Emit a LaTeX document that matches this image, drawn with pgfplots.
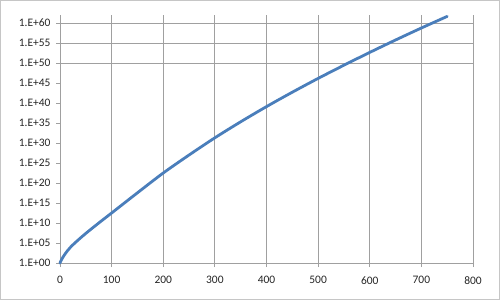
\documentclass[border=0pt]{standalone}
\usepackage{fontspec}
\setmainfont{Carlito}
\usepackage{pgfplots}
\pgfplotsset{compat=1.18}
\definecolor{exblue}{RGB}{74,126,187}
\definecolor{gridgray}{RGB}{160,160,160}
\begin{document}
\begin{tikzpicture}[x=1bp,y=1bp]
\draw[draw=gray!45,line width=1bp,fill=white] (0.5,0.5) rectangle (499.5,299.5);
\begin{axis}[
  at={(60bp,37bp)}, anchor=south west,
  scale only axis, width=413bp, height=248bp,
  xmin=0, xmax=800, ymin=1, ymax=1e62,
  ymode=log,
  axis lines=left, axis line style={-, draw=gridgray, line width=0.8bp},
  xtick={0,100,...,800},
  xmajorgrids, grid style={draw=gridgray, line width=0.8bp},
  ytick={1e0,1e5,1e10,1e15,1e20,1e25,1e30,1e35,1e40,1e45,1e50,1e55,1e60},
  yticklabels={1.E+00,1.E+05,1.E+10,1.E+15,1.E+20,1.E+25,1.E+30,1.E+35,1.E+40,1.E+45,1.E+50,1.E+55,1.E+60},
  extra y ticks={1e50,1e55,1e60},
  extra y tick labels={},
  extra y tick style={ymajorgrids=true},
  minor tick num=0,
  tick align=outside, tick style={draw=gridgray, line width=0.8bp},
  major tick length=4bp,
  ticklabel style={font=\fontsize{11.5}{13}\selectfont, text=black!85},
  /pgf/number format/assume math mode=true,
  x tick label style={yshift=-6bp},
  y tick label style={xshift=-2bp},
  clip=false,
]
\addplot[exblue, line width=2.8bp, smooth, line cap=round] coordinates {
(0,1e0) (2,3.98e0) (5,2.0e1) (10,2.0e2) (15,1.41e3) (20,7.94e3) (25,3.55e4)
(30,1.41e5) (40,2.0e6) (50,2.51e7) (60,2.82e8) (70,3.02e9) (80,3.16e10)
(90,3.16e11) (100,3.16e12) (150,3.55e17) (200,3.16e22) (250,1e27) (300,2.0e31)
(350,2.0e35) (400,1.26e39) (450,5.0e42) (500,1.41e46) (550,2.82e49)
(600,4.47e52) (650,5.62e55) (700,5.62e58) (750,4.47e61)
};
\end{axis}
\end{tikzpicture}
\end{document}
